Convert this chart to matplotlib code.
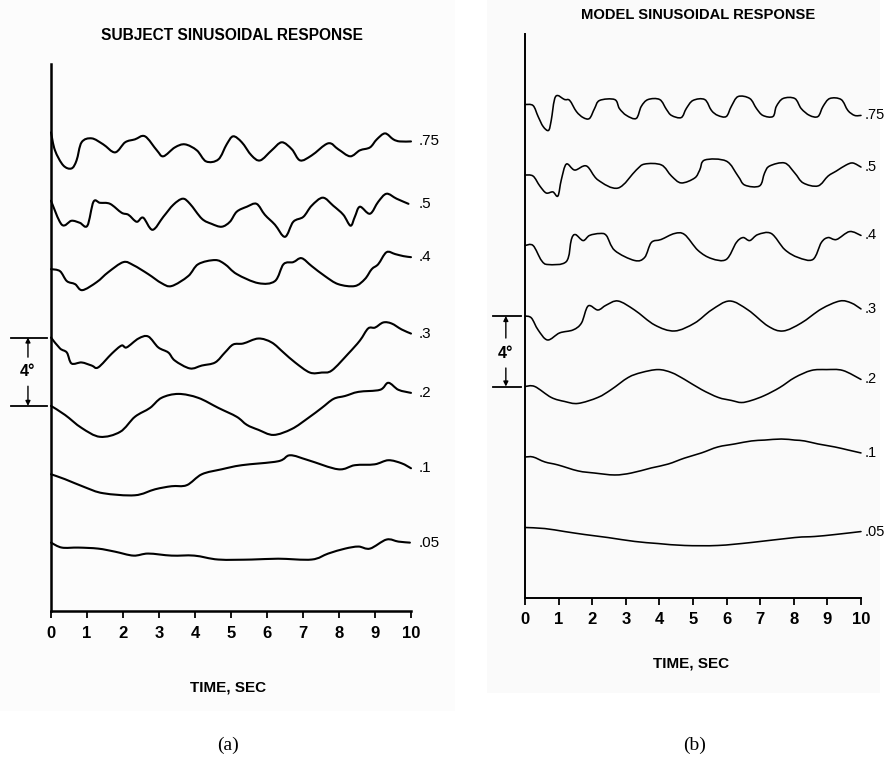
import matplotlib
matplotlib.use('Agg')
import numpy as np
import matplotlib.pyplot as plt
from matplotlib.patches import Rectangle, PathPatch
from matplotlib.path import Path

# ---------------- data (deflection in degrees relative to trace start) ----------------
freq_labels = ['.75', '.5', '.4', '.3', '.2', '.1', '.05']

# Subject sinusoidal response
subj_t_075 = [0, 0.11, 0.34, 0.57, 0.71, 0.85, 1.13, 1.45, 1.78, 2.06, 2.33, 2.61, 2.94, 3.12, 3.44, 3.72,
              4.05, 4.31, 4.65, 4.88, 5.06, 5.30, 5.57, 5.81, 6.13, 6.41, 6.69, 6.92, 7.24, 7.70, 7.98, 8.31,
              8.58, 8.86, 9.05, 9.28, 9.51, 9.69, 10.0]
subj_y_075 = [0, -1.05, -1.93, -2.11, -1.64, -0.58, -0.35, -0.70, -1.17, -0.58, -0.41, -0.23, -1.05, -1.40,
              -0.88, -0.70, -1.05, -1.70, -1.58, -0.70, -0.23, -0.58, -1.35, -1.64, -1.05, -0.58, -0.99, -1.64,
              -1.35, -0.64, -0.99, -1.40, -1.05, -0.88, -0.41, -0.06, -0.41, -0.53, -0.53]

subj_t_05 = [0, 0.30, 0.57, 0.80, 1.01, 1.18, 1.36, 1.64, 1.96, 2.15, 2.38, 2.56, 2.82, 3.12, 3.40, 3.66,
             3.86, 4.19, 4.46, 4.74, 4.97, 5.16, 5.44, 5.71, 5.94, 6.22, 6.50, 6.73, 7.01, 7.24, 7.55, 7.84,
             8.12, 8.32, 8.44, 8.58, 8.86, 9.09, 9.32, 9.60, 9.93]
subj_y_05 = [0, -1.40, -1.17, -1.29, -1.46, -0.06, -0.12, -0.18, -0.70, -0.82, -1.23, -0.99, -1.70, -0.94,
             -0.23, 0.12, -0.18, -1.05, -1.35, -1.52, -1.23, -0.64, -0.35, -0.18, -0.82, -1.40, -2.11, -1.23,
             -0.94, -0.29, 0.18, -0.29, -0.82, -1.46, -0.94, -0.35, -0.76, -0.06, 0.41, 0.12, -0.18]

subj_t_04 = [0, 0.25, 0.44, 0.67, 0.87, 1.27, 1.59, 2.01, 2.29, 2.70, 3.07, 3.35, 3.81, 4.09, 4.56, 4.83,
             5.16, 5.76, 6.22, 6.46, 6.73, 6.96, 7.24, 7.61, 7.98, 8.44, 8.72, 8.91, 9.09, 9.32, 9.56, 9.79, 10.0]
subj_y_04 = [0, -0.12, -0.70, -0.88, -1.23, -0.76, -0.18, 0.41, 0.23, -0.29, -0.82, -0.99, -0.41, 0.29, 0.53,
             0.29, -0.29, -0.82, -0.70, 0.29, 0.41, 0.64, 0.18, -0.41, -0.88, -0.99, -0.58, 0, 0.29, 0.99,
             0.88, 0.76, 0.70]

subj_t_03 = [0, 0.25, 0.44, 0.57, 0.85, 1.13, 1.31, 1.69, 1.96, 2.10, 2.43, 2.70, 2.98, 3.26, 3.44, 3.86,
             4.19, 4.56, 4.83, 5.06, 5.34, 5.76, 6.13, 6.46, 6.78, 7.19, 7.52, 7.80, 8.26, 8.58, 8.81, 9.00,
             9.23, 9.46, 9.74, 10.0]
subj_y_03 = [0, -0.64, -0.88, -1.52, -1.46, -1.64, -1.75, -0.94, -0.47, -0.58, -0.06, 0.06, -0.58, -0.88,
             -1.35, -1.81, -1.64, -1.46, -0.88, -0.41, -0.35, -0.06, -0.29, -0.88, -1.46, -2.05, -2.05, -1.93,
             -0.94, -0.18, 0.53, 0.58, 0.88, 0.82, 0.47, 0.23]

subj_t_02 = [0, 0.39, 0.85, 1.36, 1.92, 2.33, 2.75, 3.07, 3.54, 4.09, 4.65, 5.16, 5.44, 5.76, 6.18, 6.69,
             7.15, 7.52, 7.85, 8.17, 8.54, 9.14, 9.37, 9.65, 10.0]
subj_y_02 = [0, -0.53, -1.29, -1.81, -1.52, -0.64, -0.12, 0.47, 0.70, 0.47, -0.12, -0.64, -1.11, -1.40,
             -1.70, -1.35, -0.70, -0.12, 0.41, 0.58, 0.82, 0.94, 1.35, 0.94, 0.76]

subj_t_01 = [0, 0.39, 0.94, 1.45, 2.33, 2.89, 3.35, 3.77, 4.19, 4.74, 5.30, 6.31, 6.64, 7.15, 7.98, 8.44,
             8.99, 9.37, 9.74, 10.0]
subj_y_01 = [0, -0.29, -0.76, -1.11, -1.23, -0.88, -0.70, -0.64, 0, 0.29, 0.53, 0.76, 1.11, 0.82, 0.29,
             0.53, 0.58, 0.82, 0.64, 0.35]

subj_t_005 = [0, 0.30, 0.76, 1.31, 1.78, 2.29, 2.70, 3.35, 3.98, 4.65, 5.57, 6.31, 7.24, 7.70, 8.17, 8.54,
              8.86, 9.32, 9.65, 9.97]
subj_y_005 = [0, -0.29, -0.29, -0.35, -0.53, -0.76, -0.64, -0.76, -0.76, -0.99, -0.99, -0.94, -0.99, -0.64,
              -0.35, -0.23, -0.35, 0.18, 0.06, 0]

# Model sinusoidal response
model_t_075 = [0, 0.24, 0.39, 0.54, 0.70, 0.78, 0.91, 1.18, 1.33, 1.53, 1.73, 1.92, 2.07, 2.22, 2.67, 2.81,
               3.02, 3.31, 3.46, 3.66, 4.01, 4.21, 4.36, 4.65, 4.80, 5.00, 5.35, 5.55, 5.74, 5.99, 6.14, 6.34,
               6.69, 6.89, 7.08, 7.38, 7.48, 7.68, 8.03, 8.22, 8.47, 8.72, 8.87, 9.07, 9.41, 9.61, 9.81, 10.0]
model_y_075 = [0, -0.06, -0.68, -1.25, -1.47, -0.91, 0.45, 0.28, 0.23, -0.40, -0.74, -0.79, -0.23, 0.23, 0.28,
               -0.23, -0.62, -0.79, -0.11, 0.28, 0.28, -0.28, -0.62, -0.74, -0.23, 0.23, 0.28, -0.34, -0.62,
               -0.68, -0.11, 0.45, 0.34, -0.23, -0.62, -0.68, -0.11, 0.34, 0.34, -0.23, -0.62, -0.68, -0.11,
               0.34, 0.28, -0.34, -0.62, -0.62]

model_t_05 = [0, 0.24, 0.44, 0.63, 0.83, 0.98, 1.08, 1.23, 1.48, 1.83, 2.17, 2.77, 3.31, 3.56, 4.06, 4.36,
              4.65, 5.05, 5.20, 5.35, 5.99, 6.34, 6.54, 6.98, 7.13, 7.28, 7.73, 8.03, 8.28, 8.72, 9.02, 9.27,
              9.56, 9.76, 10.0]
model_y_05 = [0, -0.06, -0.62, -1.02, -0.96, -1.19, -0.28, 0.62, 0.28, 0.51, -0.28, -0.74, 0.28, 0.62, 0.57,
              -0.06, -0.45, -0.17, 0.28, 0.85, 0.79, -0.06, -0.57, -0.62, 0.11, 0.51, 0.68, 0.11, -0.45,
              -0.62, -0.06, 0.23, 0.57, 0.68, 0.45]

model_t_04 = [0, 0.24, 0.49, 0.69, 1.23, 1.38, 1.50, 1.73, 1.92, 2.22, 2.42, 2.67, 3.26, 3.56, 3.76, 4.05,
              4.45, 4.75, 5.15, 5.55, 5.99, 6.29, 6.49, 6.69, 6.93, 7.33, 7.73, 8.13, 8.57, 8.82, 9.02, 9.27,
              9.66, 10.0]
model_y_04 = [0, 0, -0.85, -1.08, -0.91, 0.34, 0.62, 0.28, 0.57, 0.68, 0.57, -0.28, -0.85, -0.68, 0.17, 0.34,
              0.68, 0.62, -0.28, -0.74, -0.79, 0.17, 0.45, 0.28, 0.62, 0.68, -0.23, -0.68, -0.79, 0.17, 0.45,
              0.34, 0.79, 0.57]

model_t_03 = [0, 0.19, 0.39, 0.67, 1.03, 1.43, 1.68, 1.88, 2.17, 2.42, 2.77, 3.26, 3.86, 4.45, 5.05, 5.55,
              6.09, 6.64, 7.23, 7.68, 8.22, 8.82, 9.37, 9.71, 10.0]
model_y_03 = [0, -0.11, -0.79, -1.36, -0.96, -0.79, -0.40, 0.57, 0.34, 0.62, 0.85, 0.34, -0.51, -0.85, -0.40,
              0.34, 0.85, 0.34, -0.57, -0.85, -0.40, 0.40, 0.85, 0.74, 0.40]

model_t_02 = [0, 0.29, 0.78, 1.18, 1.58, 2.17, 2.57, 3.07, 3.46, 3.96, 4.36, 4.75, 5.25, 5.75, 6.14, 6.44,
              6.74, 7.13, 7.58, 8.03, 8.52, 8.97, 9.46, 10.0]
model_y_02 = [0, 0, -0.62, -0.85, -0.96, -0.62, -0.17, 0.51, 0.79, 0.96, 0.79, 0.40, -0.17, -0.62, -0.79,
              -0.91, -0.79, -0.51, -0.06, 0.51, 0.91, 0.96, 0.91, 0.40]

model_t_01 = [0, 0.24, 0.59, 0.98, 1.58, 2.07, 2.67, 3.16, 3.76, 4.26, 4.75, 5.25, 5.74, 6.24, 6.74, 7.13,
              7.63, 8.03, 8.32, 8.72, 9.22, 9.61, 10.0]
model_y_01 = [0, 0, -0.28, -0.45, -0.79, -0.91, -1.02, -0.91, -0.62, -0.40, -0.06, 0.23, 0.57, 0.74, 0.91,
              0.96, 1.02, 0.96, 0.91, 0.74, 0.57, 0.40, 0.23]

model_t_005 = [0, 0.59, 1.18, 1.78, 2.47, 3.26, 3.96, 4.75, 5.74, 6.74, 8.03, 8.62, 9.22, 10.0]
model_y_005 = [0, -0.06, -0.23, -0.40, -0.57, -0.79, -0.91, -1.02, -1.02, -0.85, -0.57, -0.51, -0.40, -0.23]

x_ticks = list(range(0, 11))

subject_times = [subj_t_075, subj_t_05, subj_t_04, subj_t_03, subj_t_02, subj_t_01, subj_t_005]
subject_vals = [subj_y_075, subj_y_05, subj_y_04, subj_y_03, subj_y_02, subj_y_01, subj_y_005]
model_times = [model_t_075, model_t_05, model_t_04, model_t_03, model_t_02, model_t_01, model_t_005]
model_vals = [model_y_075, model_y_05, model_y_04, model_y_03, model_y_02, model_y_01, model_y_005]

# ---------------- layout ----------------
W, H = 888, 770
fig = plt.figure(figsize=(W / 100, H / 100), dpi=100)
fig.patch.set_facecolor('white')

NARROW = ['Liberation Sans Narrow', 'Liberation Sans', 'DejaVu Sans']
SANS = ['Liberation Sans', 'DejaVu Sans']
SERIF = ['Liberation Serif', 'DejaVu Serif']

# very faint scan-page backgrounds
fig.add_artist(Rectangle((0, 1 - 711 / H), 455 / W, 711 / H, transform=fig.transFigure,
                         facecolor='#fcfcfc', edgecolor='none', zorder=0))
fig.add_artist(Rectangle((487 / W, 1 - 693 / H), 393 / W, 693 / H, transform=fig.transFigure,
                         facecolor='#fafafa', edgecolor='none', zorder=0))

trace_base = [28, 24, 20, 16, 12, 8, 4]


def px_rect(x0, x1, ytop, ybot):
    return [x0 / W, 1 - ybot / H, (x1 - x0) / W, (ybot - ytop) / H]


def curve_path(x, y):
    """Smooth pen-trace path through the read points (cubic Bezier segments)."""
    pts = np.column_stack([x, y]).astype(float)
    n = len(pts)
    verts = [pts[0]]
    codes = [Path.MOVETO]
    for i in range(n - 1):
        p0 = pts[i - 1] if i > 0 else pts[i]
        p1 = pts[i]
        p2 = pts[i + 1]
        p3 = pts[i + 2] if i + 2 < n else pts[i + 1]
        c1 = p1 + (p2 - p0) / 6.0
        c2 = p2 - (p3 - p1) / 6.0
        verts += [c1, c2, p2]
        codes += [Path.CURVE4] * 3
    return Path(verts, codes)


def panel(rect, times, vals, lw, spine_lw, label_x, label_fs, tick_fs, tick_pad,
          bar_x0, bar_x1, bar_xa, bar_text_y):
    ax = fig.add_axes(rect)
    ax.patch.set_visible(False)
    ax.set_xlim(0, 10)
    ax.set_ylim(0, 32)
    for s in ['top', 'right']:
        ax.spines[s].set_visible(False)
    for s in ['left', 'bottom']:
        ax.spines[s].set_linewidth(spine_lw)
    ax.set_yticks([])
    ax.set_xticks(x_ticks)
    ax.set_xticklabels([str(v) for v in x_ticks], fontfamily=NARROW, fontweight='bold',
                       fontsize=tick_fs)
    ax.tick_params(axis='x', direction='out', length=5, width=1.3, pad=tick_pad)
    for t, v, b, lab in zip(times, vals, trace_base, freq_labels):
        yv = [b + d for d in v]
        ax.add_patch(PathPatch(curve_path(t, yv), fill=False, edgecolor='black', lw=lw,
                               joinstyle='round', capstyle='round', clip_on=False))
        ax.text(label_x, yv[-1], lab, ha='left', va='center', fontsize=label_fs,
                fontfamily=SANS)
    # 4 degree scale bar between the .3 and .2 trace starts
    top = trace_base[3]
    bot = trace_base[4]
    for yy in (top, bot):
        ax.plot([bar_x0, bar_x1], [yy, yy], color='black', lw=1.3, clip_on=False)
    ax.text(bar_xa, bar_text_y, '4°', ha='center', va='center', fontsize=11.5,
            fontfamily=NARROW, fontweight='bold')
    arrow = dict(arrowstyle='-|>', color='black', lw=1.0, mutation_scale=7,
                 shrinkA=0, shrinkB=0)
    ax.annotate('', xy=(bar_xa, top), xytext=(bar_xa, bar_text_y + 0.85),
                arrowprops=arrow, annotation_clip=False)
    ax.annotate('', xy=(bar_xa, bot), xytext=(bar_xa, bar_text_y - 0.85),
                arrowprops=arrow, annotation_clip=False)
    return ax


axL = panel(px_rect(51, 411, 64, 611), subject_times, subject_vals, lw=1.5, spine_lw=1.8,
            label_x=10.2, label_fs=11, tick_fs=12, tick_pad=6,
            bar_x0=-1.11, bar_x1=-0.11, bar_xa=-0.64, bar_text_y=14.0)
axR = panel(px_rect(525, 861, 34, 598), model_times, model_vals, lw=1.15, spine_lw=1.4,
            label_x=10.12, label_fs=10.5, tick_fs=12, tick_pad=5,
            bar_x0=-0.95, bar_x1=-0.12, bar_xa=-0.57, bar_text_y=13.9)

# titles and axis captions
fig.text(232 / W, 1 - 35 / H, 'SUBJECT SINUSOIDAL RESPONSE', ha='center', va='center',
         fontsize=11.2, fontweight='bold', fontfamily=NARROW)
fig.text(698 / W, 1 - 15 / H, 'MODEL SINUSOIDAL RESPONSE', ha='center', va='center',
         fontsize=10.6, fontweight='bold', fontfamily=NARROW)
fig.text(228 / W, 1 - 688 / H, 'TIME, SEC', ha='center', va='center',
         fontsize=11, fontweight='bold', fontfamily=NARROW)
fig.text(691 / W, 1 - 663 / H, 'TIME, SEC', ha='center', va='center',
         fontsize=11, fontweight='bold', fontfamily=NARROW)
fig.text(228 / W, 1 - 745 / H, '(a)', ha='center', va='center', fontsize=14, fontfamily=SERIF)
fig.text(695 / W, 1 - 745 / H, '(b)', ha='center', va='center', fontsize=14, fontfamily=SERIF)

fig.savefig('out.png', dpi=100, facecolor='white')
